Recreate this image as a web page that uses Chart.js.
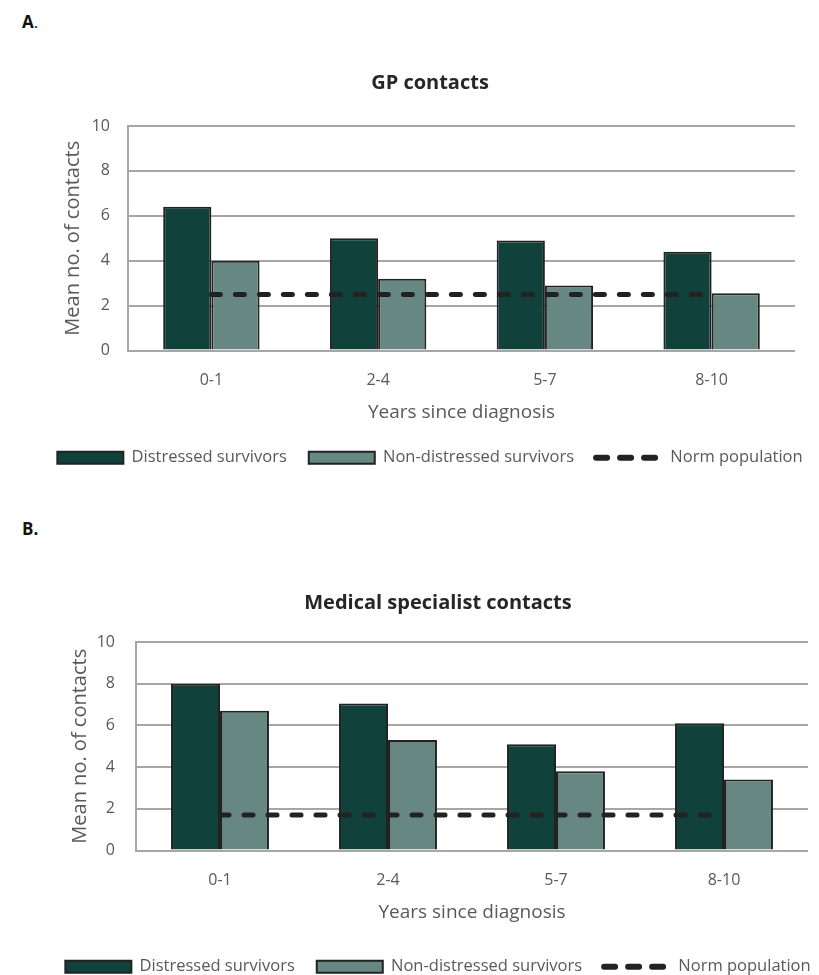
<!DOCTYPE html>
<html>
<head>
<meta charset="utf-8">
<script src="https://cdn.jsdelivr.net/npm/chart.js@4/dist/chart.umd.min.js"></script>
<style>
  body { margin: 0; background: #ffffff; width: 819px; height: 975px; position: relative; overflow: hidden; font-family: "Open Sans", sans-serif; }
  .panel { position: absolute; left: 22px; font-weight: bold; font-size: 17px; color: #111; }
  canvas { position: absolute; left: 0; }
</style>
</head>
<body>
<div class="panel" style="top: 10px;">A<span style="font-weight: normal;">.</span></div>
<div class="panel" style="top: 517px;">B.</div>
<canvas id="chartA" width="840" height="418" style="top: 58px;"></canvas>
<canvas id="chartB" width="836" height="410" style="top: 575px;"></canvas>
<script>
// categories on the x axis
var categories = ["0-1", "2-4", "5-7", "8-10"];

// A. GP contacts
var gpDistressed = [6.4, 5.0, 4.9, 4.4];
var gpNonDistressed = [4.0, 3.2, 2.9, 2.55];
var gpNorm = [2.5, 2.5, 2.5, 2.5];

// B. Medical specialist contacts
var specDistressed = [8.0, 7.05, 5.1, 6.1];
var specNonDistressed = [6.7, 5.3, 3.8, 3.4];
var specNorm = [1.7, 1.7, 1.7, 1.7];

// y axis ticks: 0, 2, ... 10
var yMin = 0;
var yMax = 10;
var yStep = 2;

var seriesNames = ["Distressed survivors", "Non-distressed survivors", "Norm population"];
var darkGreen = "#10413a";
var greyGreen = "#678882";
var gridGrey = "#a6a6a6";
var textGrey = "#595959";

function makeChart(canvasId, title, distressed, nonDistressed, norm, pad) {
    "use strict";
    var ctx = document.getElementById(canvasId);
    return new Chart(ctx, {
        type: "bar",
        data: {
            labels: categories,
            datasets: [
                {
                    label: seriesNames[0],
                    data: distressed,
                    backgroundColor: darkGreen,
                    borderColor: "#222222",
                    borderWidth: 2,
                    categoryPercentage: pad.cat,
                    barPercentage: 1.0,
                    order: 2
                },
                {
                    label: seriesNames[1],
                    data: nonDistressed,
                    backgroundColor: greyGreen,
                    borderColor: "#222222",
                    borderWidth: 2,
                    categoryPercentage: pad.cat,
                    barPercentage: 1.0,
                    order: 2
                },
                {
                    type: "line",
                    label: seriesNames[2],
                    data: norm,
                    borderColor: "#222222",
                    backgroundColor: "#222222",
                    borderWidth: 5,
                    borderDash: [9, 15],
                    borderCapStyle: "round",
                    pointRadius: 0,
                    fill: false,
                    order: 1
                }
            ]
        },
        options: {
            responsive: false,
            animation: false,
            layout: { padding: { left: pad.left, right: 0, top: 0, bottom: 0 } },
            plugins: {
                tooltip: { enabled: false },
                title: {
                    display: true,
                    text: title,
                    color: "#262626",
                    font: { family: "Open Sans", size: 20, weight: "bold" },
                    padding: { top: pad.titleTop, bottom: pad.titleBottom }
                },
                legend: {
                    position: "bottom",
                    labels: {
                        usePointStyle: true,
                        pointStyleWidth: 66,
                        boxHeight: 12,
                        padding: 22,
                        color: textGrey,
                        font: { family: "Open Sans", size: 16.5 },
                        generateLabels: function (chart) {
                            return chart.data.datasets.map(function (ds, i) {
                                var isLine = ds.type === "line";
                                return {
                                    text: ds.label,
                                    datasetIndex: i,
                                    fillStyle: isLine ? "rgba(0,0,0,0)" : ds.backgroundColor,
                                    strokeStyle: "#222222",
                                    lineWidth: isLine ? 6 : 2,
                                    lineDash: isLine ? [11, 13] : [],
                                    lineCap: "round",
                                    pointStyle: isLine ? "line" : "rect",
                                    fontColor: textGrey
                                };
                            });
                        }
                    }
                }
            },
            scales: {
                x: {
                    grid: { display: false, drawTicks: false },
                    border: { display: false },
                    ticks: { color: textGrey, padding: 20, font: { family: "Open Sans", size: 16 } },
                    title: {
                        display: true,
                        text: "Years since diagnosis",
                        color: textGrey,
                        font: { family: "Open Sans", size: 19 },
                        padding: { top: -9, bottom: pad.xTitleBottom }
                    }
                },
                y: {
                    min: yMin,
                    max: yMax,
                    grid: { color: gridGrey, lineWidth: 2, drawTicks: false },
                    border: { display: true, color: gridGrey, width: 2 },
                    ticks: { stepSize: yStep, color: textGrey, padding: pad.yTickPad, font: { family: "Open Sans", size: 16 } },
                    title: {
                        display: true,
                        text: "Mean no. of contacts",
                        color: textGrey,
                        font: { family: "Open Sans", size: 20 },
                        padding: { top: pad.yTitlePad, bottom: 0 }
                    },
                    afterFit: function (scale) {
                        scale.width = pad.yWidth;
                    }
                },
                yRight: {
                    position: "right",
                    display: true,
                    grid: { display: false, drawTicks: false },
                    border: { display: false },
                    ticks: { display: false },
                    afterFit: function (scale) {
                        scale.width = pad.right;
                    }
                }
            }
        }
    });
}

makeChart("chartA", "GP contacts", gpDistressed, gpNonDistressed, gpNorm, {
    left: 20, yWidth: 108, right: 45, cat: 0.578,
    titleTop: 13, titleBottom: 31, xTitleBottom: 4,
    yTickPad: 18, yTitlePad: 41
});
makeChart("chartB", "Medical specialist contacts", specDistressed, specNonDistressed, specNorm, {
    left: 40, yWidth: 96, right: 28, cat: 0.583,
    titleTop: 16, titleBottom: 27, xTitleBottom: 13,
    yTickPad: 21, yTitlePad: 28
});
</script>
</body>
</html>
